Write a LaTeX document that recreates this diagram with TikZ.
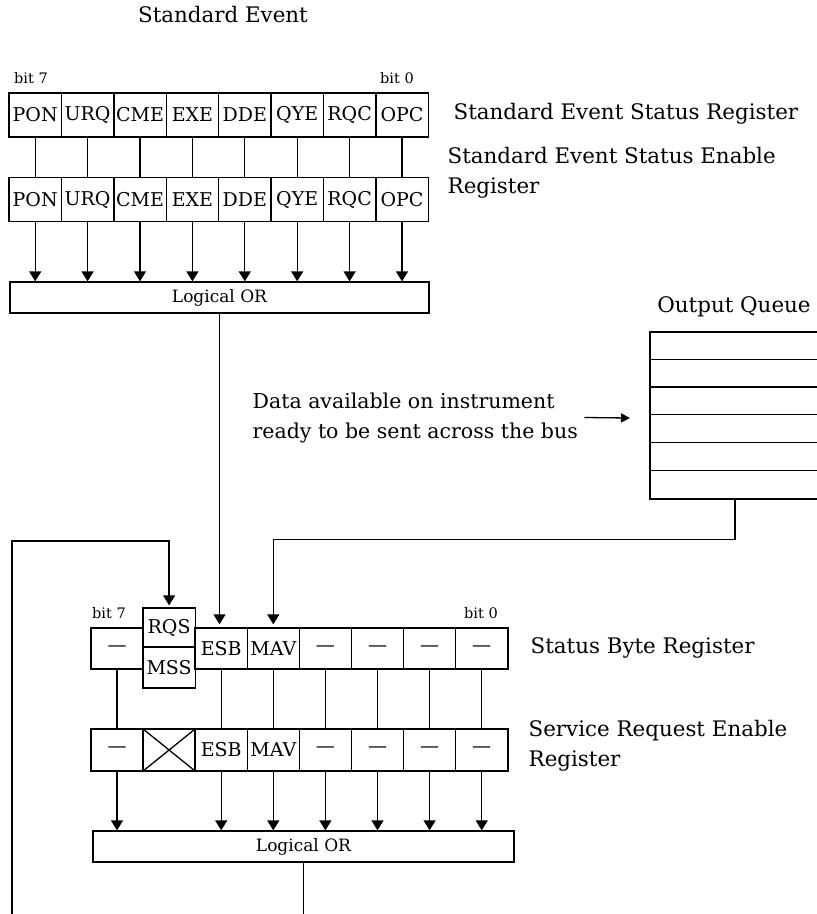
\documentclass[tikz,border=0pt]{standalone}
\usepackage{fontspec}
\setmainfont{DejaVu Serif}
\usepackage{tikz}
\usetikzlibrary{arrows.meta, positioning}

\begin{document}
\begin{tikzpicture}[x=1pt, y=-1pt, line width=1.3pt,
    cell/.style={draw, minimum width=52.3pt, minimum height=44pt, inner sep=0pt, font=\fontsize{19}{22}\selectfont},
    orbox/.style={draw, minimum height=31pt, inner sep=0pt, font=\fontsize{17}{20}\selectfont},
    lbl/.style={anchor=west, align=left, inner sep=0pt, font=\fontsize{21.4}{30}\selectfont},
    bitlbl/.style={inner sep=0pt, font=\fontsize{14.5}{16}\selectfont},
    arr/.style={-{Triangle[width=12pt, length=10pt]}},
    arrsmall/.style={-{Triangle[width=9pt, length=9pt]}}]
    \useasboundingbox (0,0) rectangle (817,914);

    % Standard event registers
    \node[lbl, anchor=center] (sestitle) at (223, 15) {Standard Event};
    \node[bitlbl] (sesbit7) at (31, 78) {bit 7};
    \node[bitlbl] (sesbit0) at (397, 78) {bit 0};
    \node[orbox, minimum width=419pt] (orA) at (219.5, 297.5) {Logical OR};

    \foreach \name [count=\i from 0] in {PON,URQ,CME,EXE,DDE,QYE,RQC,OPC} {
        \node[cell] (sesr\i) at (35.2+52.4*\i, 115) {\name};
        \node[cell] (sese\i) at (35.2+52.4*\i, 199.5) {\name};
        \draw (sesr\i) -- (sese\i);
        \draw[arr] (sese\i.south) -- (sese\i.south |- orA.north);
    }

    \node[lbl] (sesrlabel) at (453, 114) {Standard Event Status Register};
    \node[lbl] (seselabel) at (447, 173) {Standard Event Status Enable\\Register};

    % Output queue
    \node[lbl, anchor=center] (queuetitle) at (734, 307) {Output Queue};
    \node[draw, minimum width=180pt, minimum height=167pt, inner sep=0pt] (queue) at (740, 415.5) {};
    \foreach \k in {1,...,5}
        \draw (queue.north west) ++(0, 27.83*\k) -- ++(180, 0);

    \node[lbl, font=\fontsize{20.5}{30}\selectfont] (data) at (252, 417.5) {Data available on instrument\\ready to be sent across the bus};
    \coordinate (qin) at (630, 418);
    \draw[arrsmall] ([xshift=6pt]data.east) -- (qin);

    % Status byte and service request enable registers
    \node[orbox, minimum width=421pt] (orB) at (303.5, 846.5) {Logical OR};
    \node[bitlbl] (sbbit7) at (109, 613) {bit 7};
    \node[bitlbl] (sbbit0) at (481, 613) {bit 0};

    \foreach \name/\i in {---/0, ESB/2, MAV/3, ---/4, ---/5, ---/6, ---/7} {
        \node[cell, minimum height=41pt] (sb\i) at (117+52.1*\i, 648.5) {\name};
        \node[cell, minimum height=42pt] (sre\i) at (117+52.1*\i, 750) {\name};
        \draw (sb\i) -- (sre\i);
        \draw[arr] (sre\i.south) -- (sre\i.south |- orB.north);
    }

    \node[cell, minimum height=39pt] (rqs) at (169.1, 627.5) {RQS};
    \node[cell, minimum height=41pt] (mss) at (169.1, 667.5) {MSS};
    \node[cell, minimum height=42pt] (sre1) at (169.1, 750) {};
    \draw (sre1.north west) -- (sre1.south east) (sre1.south west) -- (sre1.north east);

    \node[lbl] (sblabel) at (530, 648) {Status Byte Register};
    \node[lbl] (srelabel) at (528, 746) {Service Request Enable\\Register};

    % Connections
    \draw[arr, shorten >=3pt] (orA.south) -- (orA.south |- sb2.north);
    \draw[arr, shorten >=3pt] ([xshift=-5pt]queue.south) -- ++(0, 40) -| (sb3.north);
    \coordinate (fb) at (12, 916);
    \draw[arr, shorten >=2pt] (fb) -- (12, 541) -| (rqs.north);
    \coordinate (srqout) at (303.5, 916);
    \draw (orB.south) -- (srqout);
\end{tikzpicture}
\end{document}
